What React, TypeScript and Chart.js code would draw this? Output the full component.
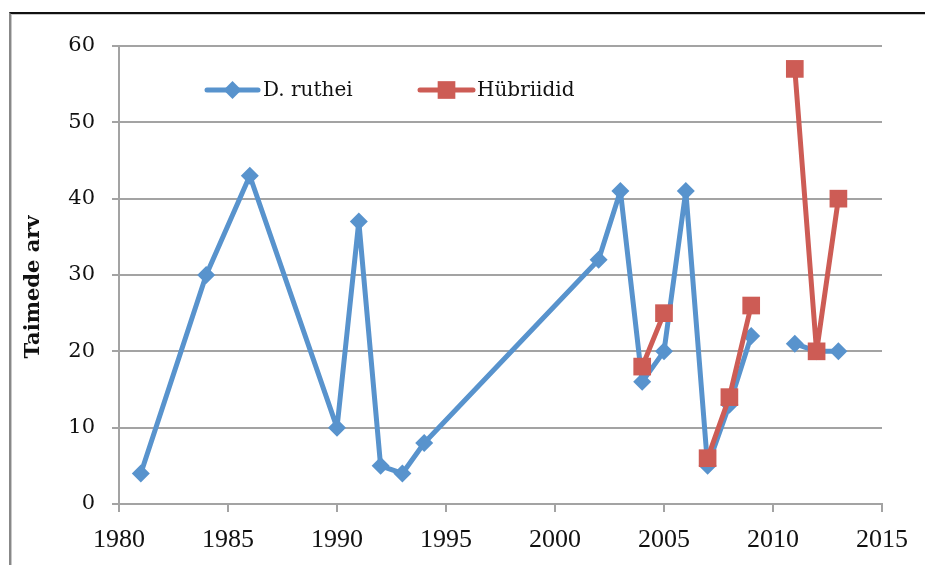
import React, { useEffect, useRef } from "react";
import { Chart, registerables } from "chart.js";

Chart.register(...registerables);

const ruthYears = [1981, 1984, 1986, 1990, 1991, 1992, 1993, 1994, 2002, 2003, 2004, 2005, 2006, 2007, 2008, 2009, 2010, 2011, 2012, 2013];
const ruthValues = [4, 30, 43, 10, 37, 5, 4, 8, 32, 41, 16, 20, 41, 5, 13, 22, null, 21, 20, 20];

const hybYears = [2004, 2005, 2006, 2007, 2008, 2009, 2010, 2011, 2012, 2013];
const hybValues = [18, 25, null, 6, 14, 26, null, 57, 20, 40];

const seriesLabels = ["D. ruthei", "Hübriidid"];
const yTitle = "Taimede arv";

const BLUE = "#5893CD";
const RED = "#CD5C55";
const GRID = "#A3A3A3";
const SERIF = "'DejaVu Serif', 'Liberation Serif', serif";

const legendPlugin = {
  id: "customLegend",
  afterDraw(chart: any) {
    const ctx = chart.ctx;
    ctx.save();
    const items = [
      { ds: chart.data.datasets[1], x0: 207, x1: 258, tx: 263 },
      { ds: chart.data.datasets[0], x0: 420, x1: 473, tx: 477 },
    ];
    const y = 90;
    for (const it of items) {
      const ds = it.ds;
      ctx.strokeStyle = ds.borderColor;
      ctx.lineWidth = ds.borderWidth;
      ctx.lineCap = "round";
      ctx.beginPath();
      ctx.moveTo(it.x0, y);
      ctx.lineTo(it.x1, y);
      ctx.stroke();
      ctx.fillStyle = ds.pointBackgroundColor;
      ctx.beginPath();
      const cx = (it.x0 + it.x1) / 2;
      if (ds.pointStyle === "rectRot") {
        const r = ds.pointRadius;
        ctx.moveTo(cx, y - r);
        ctx.lineTo(cx + r, y);
        ctx.lineTo(cx, y + r);
        ctx.lineTo(cx - r, y);
        ctx.closePath();
      } else {
        const h = ds.pointRadius * Math.SQRT1_2;
        ctx.rect(cx - h, y - h, 2 * h, 2 * h);
      }
      ctx.fill();
      ctx.fillStyle = "#111";
      ctx.font = "20px " + SERIF;
      ctx.textBaseline = "middle";
      ctx.textAlign = "left";
      ctx.fillText(ds.label, it.tx, y + 1);
    }
    // y axis title
    ctx.translate(34, 287);
    ctx.rotate(-Math.PI / 2);
    ctx.font = "bold 21px " + SERIF;
    ctx.textAlign = "center";
    ctx.textBaseline = "middle";
    ctx.fillStyle = "#111";
    ctx.fillText(yTitle, 0, 0);
    ctx.restore();
  },
};

export default function App() {
  const ref = useRef<HTMLCanvasElement>(null);

  useEffect(() => {
    const canvas = ref.current;
    if (!canvas) return;
    const chart = new Chart(canvas, {
      type: "line",
      data: {
        datasets: [
          {
            label: seriesLabels[1],
            data: hybYears.map((x, i) => ({ x, y: hybValues[i] })),
            borderColor: RED,
            backgroundColor: RED,
            pointBackgroundColor: RED,
            pointBorderWidth: 0,
            borderWidth: 5,
            borderJoinStyle: "round",
            borderCapStyle: "round",
            pointStyle: "rect",
            pointRadius: 12.5,
            spanGaps: false,
            order: 0,
          } as any,
          {
            label: seriesLabels[0],
            data: ruthYears.map((x, i) => ({ x, y: ruthValues[i] })),
            borderColor: BLUE,
            backgroundColor: BLUE,
            pointBackgroundColor: BLUE,
            pointBorderWidth: 0,
            borderWidth: 5,
            borderJoinStyle: "round",
            borderCapStyle: "round",
            pointStyle: "rectRot",
            pointRadius: 9,
            spanGaps: false,
            order: 1,
          } as any,
        ],
      },
      options: {
        responsive: false,
        animation: false,
        layout: { padding: { left: 0, right: 43, top: 46, bottom: 0 } },
        plugins: {
          legend: { display: false },
          tooltip: { enabled: false },
        },
        scales: {
          x: {
            type: "linear",
            min: 1980,
            max: 2015,
            afterFit: (s: any) => {
              s.height = 61;
              s.paddingLeft = 0;
              s.paddingRight = 0;
            },
            ticks: {
              stepSize: 5,
              color: "#111",
              font: { family: "'Liberation Serif', serif", size: 26 },
              padding: 13,
              maxRotation: 0,
              callback: (v: any) => String(v),
            },
            grid: {
              drawOnChartArea: false,
              drawTicks: true,
              tickLength: 8,
              color: GRID,
              lineWidth: 2,
            },
            border: { display: true, color: GRID, width: 2 },
          },
          y: {
            min: 0,
            max: 60,
            afterFit: (s: any) => {
              s.width = 119;
              s.paddingTop = 0;
              s.paddingBottom = 0;
            },
            ticks: {
              stepSize: 10,
              color: "#111",
              font: { family: SERIF, size: 21 },
              padding: 17,
            },
            grid: {
              color: GRID,
              lineWidth: 2,
              tickLength: 7,
            },
            border: { display: true, color: GRID, width: 2 },
          },
        },
      },
      plugins: [legendPlugin],
    });
    return () => chart.destroy();
  }, []);

  return (
    <div style={{ position: "fixed", left: 0, top: 0, width: 925, height: 565, background: "#fff", overflow: "hidden" }}>
      <div
        style={{
          position: "absolute",
          left: 9,
          top: 12,
          width: 1000,
          height: 1000,
          borderTop: "2px solid #111",
          borderLeft: "2px solid #888",
          boxShadow: "inset 1px 1px 0 #c8c8c8",
        }}
      />
      <canvas ref={ref} width={925} height={565} style={{ position: "absolute", left: 0, top: 0 }} />
    </div>
  );
}
